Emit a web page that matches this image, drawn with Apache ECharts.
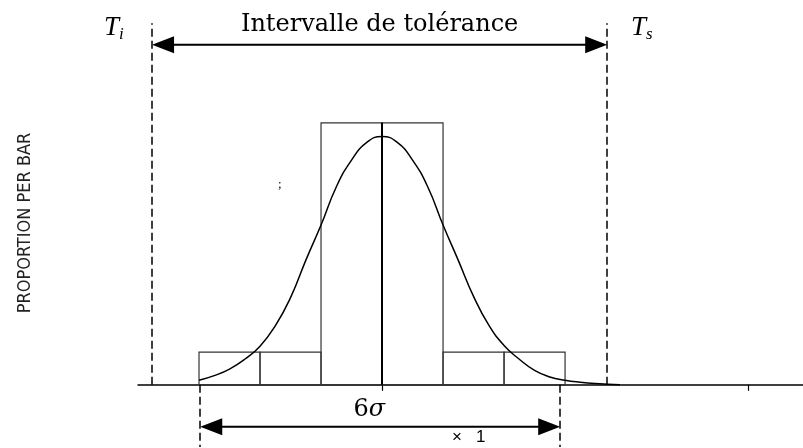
<!DOCTYPE html>
<html>
<head>
<meta charset="utf-8">
<title>Intervalle de tolérance</title>
<style>
html, body { margin: 0; padding: 0; background: #fff; }
#main { width: 803px; height: 448px; }
</style>
</head>
<body>
<div id="main"></div>
<script src="https://cdn.jsdelivr.net/npm/echarts@6/dist/echarts.min.js"></script>
<script>
// histogram bars, x in units of sigma
var binStart = [-3, -2, -1, 0, 1, 2];
var binEnd = [-2, -1, 0, 1, 2, 3];
var proportion = [0.05, 0.05, 0.40, 0.40, 0.05, 0.05];

// fitted curve
var curveX = [-3.00, -2.75, -2.50, -2.25, -2.00, -1.75, -1.50, -1.25, -1.00, -0.75, -0.50, -0.25, 0,
              0.25, 0.50, 0.75, 1.00, 1.25, 1.50, 1.75, 2.00, 2.25, 2.50, 2.75, 3.00, 3.25, 3.50, 3.90];
var curveY = [0.007, 0.014, 0.024, 0.039, 0.059, 0.090, 0.133, 0.190, 0.244, 0.302, 0.343, 0.370, 0.379,
              0.370, 0.343, 0.302, 0.244, 0.190, 0.135, 0.091, 0.060, 0.039, 0.022, 0.012, 0.007, 0.004, 0.002, 0.0];

// tolerance limits and the 6 sigma span
var limitTi = -3.77, limitTs = 3.69;
var spanLow = -2.98, spanHigh = 2.92;
var xTicks = [0, 6];

// labels of the two double arrows
var arrowLabels = ['{t|Intervalle de tolérance}', '{n|6}{s|σ}'];

// heights of the annotation lines (same units as the y axis)
var topLevel = 0.552, topArrow = 0.519, lowArrow = -0.064, lowLevel = -0.095;

var myChart = echarts.init(document.getElementById('main'));

var bars = binStart.map(function (s, i) { return [s, binEnd[i], proportion[i]]; });
var curve = curveX.map(function (x, i) { return [x, curveY[i]]; });
var arrows = [[limitTi, limitTs, topArrow], [spanLow, spanHigh, lowArrow]];

var serif = "'DejaVu Serif', serif";

function renderArrow(params, api) {
    var a = api.coord([api.value(0), api.value(2)]);
    var b = api.coord([api.value(1), api.value(2)]);
    var L = 22, H = 8.5;
    var mid = (a[0] + b[0]) / 2;
    var isTop = params.dataIndex === 0;
    return {
        type: 'group',
        children: [
            { type: 'line', shape: { x1: a[0] + L - 2, y1: a[1], x2: b[0] - L + 2, y2: b[1] },
              style: { stroke: '#000', lineWidth: 2 } },
            { type: 'polygon', shape: { points: [[a[0], a[1]], [a[0] + L, a[1] - H], [a[0] + L, a[1] + H]] },
              style: { fill: '#000' } },
            { type: 'polygon', shape: { points: [[b[0], b[1]], [b[0] - L, b[1] - H], [b[0] - L, b[1] + H]] },
              style: { fill: '#000' } },
            { type: 'text',
              style: {
                  text: arrowLabels[params.dataIndex],
                  x: isTop ? mid : mid - 11,
                  y: a[1] - (isTop ? 8 : 5),
                  align: 'center',
                  verticalAlign: 'bottom',
                  rich: {
                      t: { fontFamily: serif, fontSize: 24, fill: '#000' },
                      n: { fontFamily: serif, fontSize: 24, fill: '#000' },
                      s: { fontFamily: serif, fontSize: 24, fontStyle: 'italic', fill: '#000' }
                  }
              } }
        ]
    };
}

var option = {
    animation: false,
    backgroundColor: '#fff',
    grid: { left: 138, right: 0, top: 18, bottom: 1 },
    xAxis: {
        type: 'value',
        min: -4,
        max: 6.9,
        axisLine: { onZero: true, lineStyle: { color: '#000', width: 1.5 } },
        axisTick: { show: true, customValues: xTicks, length: 6, lineStyle: { color: '#000', width: 1.2 } },
        axisLabel: { show: false },
        splitLine: { show: false }
    },
    yAxis: {
        type: 'value',
        min: lowLevel,
        max: 0.56,
        name: 'PROPORTION PER BAR',
        nameLocation: 'middle',
        nameRotate: 90,
        nameGap: 104,
        nameTextStyle: {
            color: '#222',
            fontFamily: "'Liberation Sans Narrow', 'DejaVu Sans Condensed', 'Liberation Sans', sans-serif",
            fontSize: 18,
            padding: [0, 0, 0, 19]
        },
        axisLine: { show: false },
        axisTick: { show: false },
        axisLabel: { show: false },
        splitLine: { show: false }
    },
    series: [
        {
            // bars drawn as outlined rectangles
            type: 'custom',
            renderItem: function (params, api) {
                var p0 = api.coord([api.value(0), 0]);
                var p1 = api.coord([api.value(1), api.value(2)]);
                return {
                    type: 'rect',
                    shape: { x: p0[0], y: p1[1], width: p1[0] - p0[0], height: p0[1] - p1[1] },
                    style: { fill: 'none', stroke: '#333', lineWidth: 1.2 }
                };
            },
            encode: { x: [0, 1], y: 2 },
            data: bars,
            z: 2
        },
        {
            type: 'line',
            data: curve,
            smooth: 0.5,
            showSymbol: false,
            lineStyle: { color: '#000', width: 1.5 },
            z: 3,
            markLine: {
                silent: true,
                symbol: 'none',
                label: { show: false },
                lineStyle: { color: '#000', width: 1.5, type: [8, 4] },
                data: [
                    [{ coord: [limitTi, 0] }, { coord: [limitTi, topLevel] }],
                    [{ coord: [limitTs, 0] }, { coord: [limitTs, topLevel] }],
                    [{ coord: [spanLow, 0] }, { coord: [spanLow, lowLevel] }],
                    [{ coord: [spanHigh, 0] }, { coord: [spanHigh, lowLevel] }],
                    [{ coord: [0, 0], lineStyle: { type: 'solid', width: 2 } }, { coord: [0, proportion[3]] }]
                ]
            }
        },
        {
            type: 'custom',
            renderItem: renderArrow,
            encode: { x: [0, 1], y: 2 },
            data: arrows,
            clip: false,
            silent: true,
            z: 4
        }
    ],
    graphic: [
        {
            type: 'text', left: 104, top: 14,
            style: {
                text: '{T|T}{i|i}',
                rich: {
                    T: { fontFamily: "'Liberation Serif', serif", fontStyle: 'italic', fontSize: 27, fill: '#000' },
                    i: { fontFamily: "'Liberation Serif', serif", fontStyle: 'italic', fontSize: 17, fill: '#000', padding: [14, 0, 0, 0] }
                }
            }
        },
        {
            type: 'text', left: 631, top: 14,
            style: {
                text: '{T|T}{i|s}',
                rich: {
                    T: { fontFamily: "'Liberation Serif', serif", fontStyle: 'italic', fontSize: 27, fill: '#000' },
                    i: { fontFamily: "'Liberation Serif', serif", fontStyle: 'italic', fontSize: 17, fill: '#000', padding: [14, 0, 0, 0] }
                }
            }
        },
        {
            type: 'text', left: 452, top: 429,
            style: { text: '×   1', font: "17px 'Liberation Sans', sans-serif", fill: '#000' }
        },
        {
            type: 'text', left: 278, top: 178,
            style: { text: ';', font: "13px 'Liberation Serif', serif", fill: '#000' }
        }
    ]
};

myChart.setOption(option);
</script>
</body>
</html>
